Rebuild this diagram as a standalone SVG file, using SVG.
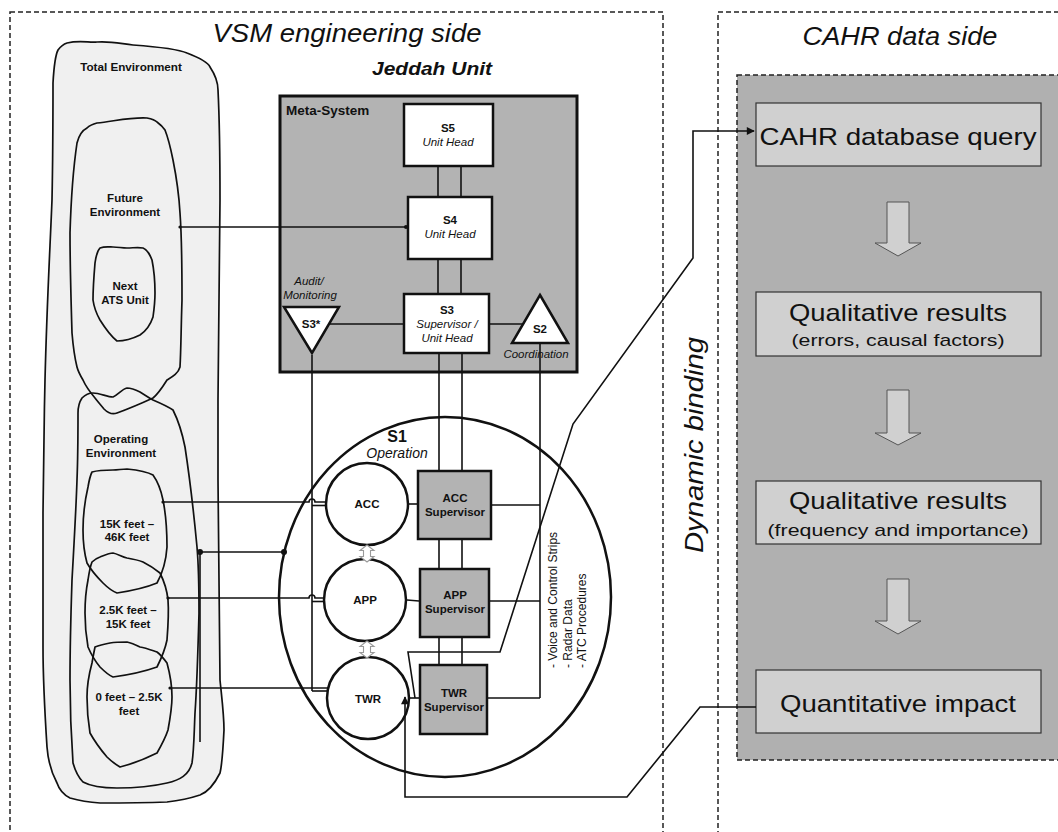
<svg xmlns="http://www.w3.org/2000/svg" width="1058" height="832" viewBox="0 0 1058 832">
  <defs>
    <style>
      text { font-family: "Liberation Sans", Arial, sans-serif; fill: #111; }
      .title { font-size: 25px; font-style: italic; }
      .b { font-weight: bold; }
      .i { font-style: italic; }
      .lbl { font-size: 11.5px; text-anchor: middle; }
      .box-txt { font-size: 24px; text-anchor: middle; }
      .sub-txt { font-size: 17px; text-anchor: middle; }
      .panel { fill: none; stroke: #222; stroke-width: 1.5; stroke-dasharray: 5 3; }
      .blob { fill: #f0f0f0; stroke: #111; stroke-width: 1.7; stroke-linejoin: round; }
      .blob2 { fill: none; stroke: #111; stroke-width: 1.7; stroke-linejoin: round; }
      .sbox { fill: #fff; stroke: #111; stroke-width: 2.5; }
      .gbox { fill: #b3b3b3; stroke: #111; stroke-width: 2.5; }
      .circ { fill: #fff; stroke: #111; stroke-width: 2.5; }
      .ln { fill: none; stroke: #111; stroke-width: 1.6; }
      .res { fill: #d0d0d0; stroke: #333; stroke-width: 1.2; }
      .barrow { fill: #d0d0d0; stroke: #555; stroke-width: 1; }
      .harrow { fill: #fff; stroke: #9a9a9a; stroke-width: 1.1; }
    </style>
    <marker id="ah" viewBox="0 0 10 10" refX="9" refY="5" markerWidth="9" markerHeight="8" markerUnits="userSpaceOnUse" orient="auto">
      <path d="M0,0 L10,5 L0,10 z" fill="#111"/>
    </marker>
  </defs>

  <rect width="1058" height="832" fill="#fff"/>

  <!-- panels -->
  <g id="panels">
    <rect class="panel" x="10" y="12" width="653" height="840"/>
    <rect class="panel" x="718" y="12" width="400" height="840"/>
    <rect x="737" y="75" width="340" height="685" fill="#b0b0b0" stroke="#222" stroke-width="1.5" stroke-dasharray="5 3"/>
    <text class="title" x="347" y="42" text-anchor="middle" textLength="269" lengthAdjust="spacingAndGlyphs">VSM engineering side</text>
    <text class="title" x="900" y="45" text-anchor="middle" textLength="195" lengthAdjust="spacingAndGlyphs">CAHR data side</text>
    <text class="b i" x="432" y="75" font-size="19" text-anchor="middle" textLength="120" lengthAdjust="spacingAndGlyphs">Jeddah Unit</text>
    <text class="title" transform="translate(703,553) rotate(-90)" textLength="216" lengthAdjust="spacingAndGlyphs">Dynamic binding</text>
  </g>

  <!-- environments -->
  <g id="total-environment">
    <path class="blob" d="M67,43 C80,40 90,43 97,42 C112,41 122,44 133,45 C160,47 178,49 187,53 C200,58 208,62 210,67 C216,76 218,84 218,90 C220,130 220,160 220,200 C219,280 218,340 218,400 C218,450 218,470 218,480 C219,580 220,640 220,680 C222,700 224,715 224,730 C223,750 222,765 220,773 C214,785 208,792 200,795 C185,800 176,801 167,802 C140,803 120,803 100,803 C85,802 77,800 70,798 C62,794 59,789 57,783 C50,770 48,760 47,747 C44,700 43,670 43,647 C43,600 43,560 43,513 C44,450 44,420 45,380 C47,300 50,250 52,200 C53,150 53,110 53,83 C54,65 55,56 58,50 C61,46 64,44 67,43 Z"/>
    <text class="b" x="131" y="71" font-size="11.7" text-anchor="middle">Total Environment</text>
  </g>

  <g id="future-environment">
    <path class="blob2" d="M97,123 C115,121 132,117 147,118 C152,119 155,120 157,122 C161,125 163,127 165,130 C169,140 171,150 173,160 C177,180 179,195 180,213 C182,240 182,270 182,300 C181,330 181,350 180,367 C178,374 172,377 167,380 C162,388 158,394 153,398 C140,404 128,409 117,413 C112,415 108,413 104,409 C100,404 98,402 95,398 C90,392 86,387 83,380 C80,375 78,371 77,367 C74,355 73,345 72,333 C71,300 70,265 70,233 C71,200 73,170 77,143 C79,135 83,130 87,128 C90,125 93,124 97,123 Z"/>
    <text class="b lbl" x="125" y="202">Future</text>
    <text class="b lbl" x="125" y="216">Environment</text>
  </g>

  <g id="next-ats-unit">
    <path class="blob2" d="M100,248 C105,246 110,247 113,247 C118,247 122,248 127,248 C133,248 138,247 143,248 C148,250 150,255 152,260 C154,270 155,282 155,293 C155,302 154,310 153,317 C150,326 146,331 140,335 C132,339 124,341 117,341 C112,337 105,328 100,320 C96,313 94,307 93,300 C93,288 94,275 95,263 C96,256 97,251 100,248 Z"/>
    <text class="b lbl" x="125" y="290">Next</text>
    <text class="b lbl" x="125" y="304">ATS Unit</text>
  </g>

  <g id="operating-environment">
    <path class="blob2" d="M82,398 C86,394 89,393 93,393 C100,393 107,397 113,397 C118,395 122,389 127,388 C132,388 136,390 140,392 C145,395 149,398 153,400 C160,403 167,406 173,410 C178,420 182,432 185,447 C190,480 194,515 197,547 C199,570 199,590 199,613 C198,650 197,685 195,713 C194,735 194,750 192,763 C189,775 180,780 167,783 C150,787 133,788 117,788 C104,788 92,787 83,782 C78,777 75,770 73,763 C71,735 70,710 70,680 C70,645 71,610 72,580 C74,545 76,510 77,480 C78,455 78,432 78,413 C78,406 80,401 82,398 Z"/>
    <text class="b lbl" x="121" y="443">Operating</text>
    <text class="b lbl" x="121" y="457">Environment</text>
  </g>

  <g id="altitude-15k-46k">
    <path class="blob2" d="M92,472 C99,470 106,470 113,470 C118,470 122,469 127,469 C137,470 146,471 153,475 C158,482 161,490 163,500 C166,515 167,530 167,547 C166,562 162,574 157,583 C145,588 130,591 117,593 C112,591 108,588 103,583 C97,577 91,570 87,563 C84,552 83,541 83,530 C83,515 85,500 88,487 C89,481 90,476 92,472 Z"/>
    <text class="b lbl" x="127" y="528">15K feet –</text>
    <text class="b lbl" x="127" y="541">46K feet</text>
  </g>

  <g id="altitude-2-5k-15k">
    <path class="blob2" d="M92,562 C95,559 97,558 100,557 C105,555 109,553 113,553 C118,554 122,557 127,558 C133,559 138,560 143,562 C149,565 155,569 160,573 C164,581 167,590 168,600 C169,613 168,627 167,640 C165,650 161,659 157,667 C143,672 128,675 113,677 C108,675 104,671 100,667 C95,661 91,654 88,647 C86,636 85,625 85,613 C85,602 86,590 88,580 C89,573 90,567 92,562 Z"/>
    <text class="b lbl" x="128" y="614">2.5K feet –</text>
    <text class="b lbl" x="128" y="628">15K feet</text>
  </g>

  <g id="altitude-0-2-5k">
    <path class="blob2" d="M95,647 C100,645 105,644 110,643 C116,642 121,642 127,642 C132,643 136,645 140,647 C146,648 151,650 157,652 C161,655 164,659 167,663 C170,674 172,685 172,697 C172,708 170,719 168,730 C165,739 161,746 157,753 C145,759 132,764 120,767 C115,764 111,761 107,757 C101,750 95,742 90,733 C88,721 87,709 87,697 C87,686 89,674 92,663 C93,657 94,652 95,647 Z"/>
    <text class="b lbl" x="129" y="701">0 feet – 2.5K</text>
    <text class="b lbl" x="129" y="715">feet</text>
  </g>

  <!-- meta-system -->
  <g id="meta-system">
    <rect x="280" y="96" width="297" height="276" fill="#b3b3b3" stroke="#111" stroke-width="3"/>
    <text class="b" x="286" y="115" font-size="13.5">Meta-System</text>
  </g>

  <!-- S5 -->
  <g id="s5">
    <rect class="sbox" x="404" y="104" width="89" height="62"/>
    <text class="b lbl" x="448" y="132" font-size="12.5">S5</text>
    <text class="i lbl" x="448" y="146">Unit Head</text>
  </g>

  <!-- S4 -->
  <g id="s4">
    <rect class="sbox" x="408" y="197" width="84" height="62"/>
    <text class="b lbl" x="450" y="224" font-size="12.5">S4</text>
    <text class="i lbl" x="450" y="238">Unit Head</text>
  </g>

  <!-- S3 -->
  <g id="s3">
    <rect class="sbox" x="404" y="294" width="85" height="59"/>
    <text class="b lbl" x="447" y="314" font-size="12.5">S3</text>
    <text class="i lbl" x="447" y="328">Supervisor /</text>
    <text class="i lbl" x="447" y="342">Unit Head</text>
  </g>

  <!-- S3* -->
  <g id="s3-star">
    <polygon points="284,307 339,307 312,353" fill="#fff" stroke="#111" stroke-width="2.5" stroke-linejoin="miter"/>
    <text class="b lbl" x="311" y="328">S3*</text>
    <text class="i lbl" x="309" y="285">Audit/</text>
    <text class="i lbl" x="310" y="299">Monitoring</text>
  </g>

  <!-- S2 -->
  <g id="s2">
    <polygon points="540,295 568,343 512,343" fill="#fff" stroke="#111" stroke-width="2.5"/>
    <text class="b lbl" x="540" y="333">S2</text>
    <text class="i lbl" x="536" y="358">Coordination</text>
  </g>

  <!-- S1 -->
  <g id="s1">
    <ellipse cx="445" cy="597" rx="166" ry="180" fill="none" stroke="#111" stroke-width="2.5"/>
    <text class="b" x="397" y="442" font-size="16" text-anchor="middle">S1</text>
    <text class="i" x="397" y="458" font-size="14" text-anchor="middle">Operation</text>
    <g font-size="12" fill="#111">
      <text transform="translate(557,668) rotate(-90)">- Voice and Control Strips</text>
      <text transform="translate(572,668) rotate(-90)">- Radar Data</text>
      <text transform="translate(586,668) rotate(-90)">- ATC Procedures</text>
    </g>
  </g>

  <g id="acc">
    <circle class="circ" cx="367" cy="504" r="41"/>
    <text class="b lbl" x="367" y="508">ACC</text>
  </g>
  <g id="app">
    <circle class="circ" cx="365" cy="600" r="41"/>
    <text class="b lbl" x="365" y="604">APP</text>
  </g>
  <g id="twr">
    <circle class="circ" cx="368" cy="698" r="41"/>
    <text class="b lbl" x="368" y="703">TWR</text>
  </g>

  <g id="acc-supervisor">
    <rect class="gbox" x="418" y="471" width="73" height="68"/>
    <text class="b lbl" x="455" y="502">ACC</text>
    <text class="b lbl" x="455" y="516">Supervisor</text>
  </g>
  <g id="app-supervisor">
    <rect class="gbox" x="420" y="569" width="69" height="68"/>
    <text class="b lbl" x="455" y="599">APP</text>
    <text class="b lbl" x="455" y="613">Supervisor</text>
  </g>
  <g id="twr-supervisor">
    <rect class="gbox" x="420" y="665" width="67" height="69"/>
    <text class="b lbl" x="454" y="697">TWR</text>
    <text class="b lbl" x="454" y="711">Supervisor</text>
  </g>

  <!-- CAHR data side -->
  <g id="cahr-query">
    <rect class="res" x="756" y="103" width="285" height="63"/>
    <text class="box-txt" x="898" y="145" textLength="277" lengthAdjust="spacingAndGlyphs">CAHR database query</text>
  </g>
  <g id="qualitative-errors">
    <rect class="res" x="756" y="292" width="285" height="64"/>
    <text class="box-txt" x="898" y="321" textLength="218" lengthAdjust="spacingAndGlyphs">Qualitative results</text>
    <text class="sub-txt" x="898" y="346" textLength="213" lengthAdjust="spacingAndGlyphs">(errors, causal factors)</text>
  </g>
  <g id="qualitative-frequency">
    <rect class="res" x="756" y="481" width="285" height="63"/>
    <text class="box-txt" x="898" y="509" textLength="218" lengthAdjust="spacingAndGlyphs">Qualitative results</text>
    <text class="sub-txt" x="898" y="536" textLength="261" lengthAdjust="spacingAndGlyphs">(frequency and importance)</text>
  </g>
  <g id="quantitative-impact">
    <rect class="res" x="756" y="670" width="285" height="63"/>
    <text class="box-txt" x="898" y="712" textLength="236" lengthAdjust="spacingAndGlyphs">Quantitative impact</text>
  </g>

  <!-- connectors -->
  <g id="connectors">
    <!-- S5 / S4 / S3 / S1 command channels -->
    <line class="ln" x1="438" y1="166" x2="438" y2="197"/>
    <line class="ln" x1="461" y1="166" x2="461" y2="197"/>
    <line class="ln" x1="438" y1="259" x2="438" y2="294"/>
    <line class="ln" x1="461" y1="259" x2="461" y2="294"/>
    <line class="ln" x1="439" y1="354" x2="439" y2="470"/>
    <line class="ln" x1="462" y1="354" x2="462" y2="470"/>
    <line class="ln" x1="439" y1="540" x2="439" y2="568"/>
    <line class="ln" x1="462" y1="540" x2="462" y2="568"/>
    <line class="ln" x1="439" y1="638" x2="439" y2="664"/>
    <line class="ln" x1="462" y1="638" x2="462" y2="664"/>
    <!-- S3* and S2 links -->
    <line class="ln" x1="328" y1="324" x2="403" y2="324"/>
    <line class="ln" x1="490" y1="324" x2="523" y2="324"/>
    <line class="ln" x1="312" y1="355" x2="312" y2="691"/>
    <line class="ln" x1="540" y1="344" x2="540" y2="698"/>
    <line class="ln" x1="492" y1="505" x2="540" y2="505"/>
    <line class="ln" x1="490" y1="601" x2="540" y2="601"/>
    <line class="ln" x1="488" y1="698" x2="540" y2="698"/>
    <!-- future environment to S4 -->
    <line class="ln" x1="180" y1="227" x2="407" y2="227"/>
    <circle cx="180" cy="227" r="1.6" fill="#111"/>
    <circle cx="406" cy="227" r="2" fill="#111"/>
    <!-- altitude bands to operational units -->
    <path class="ln" d="M163,502 H309 A3,3 0 0 1 315,502 H326"/>
    <line class="ln" x1="312" y1="505.5" x2="326" y2="505.5"/>
    <path class="ln" d="M168,598 H309 A3,3 0 0 1 315,598 H324"/>
    <line class="ln" x1="312" y1="601.5" x2="324" y2="601.5"/>
    <line class="ln" x1="170" y1="688" x2="328" y2="688"/>
    <line class="ln" x1="312" y1="691" x2="327" y2="691"/>
    <circle cx="163" cy="502" r="1.6" fill="#111"/>
    <circle cx="168" cy="598" r="1.6" fill="#111"/>
    <circle cx="170" cy="688" r="1.6" fill="#111"/>
    <!-- operating environment to S1 -->
    <line class="ln" x1="200" y1="552" x2="200" y2="742"/>
    <line class="ln" x1="200" y1="552" x2="284" y2="552"/>
    <circle cx="200" cy="552" r="3" fill="#111"/>
    <circle cx="284" cy="552" r="3" fill="#111"/>
    <!-- units to supervisors -->
    <line class="ln" x1="409" y1="504" x2="417" y2="504"/>
    <line class="ln" x1="407" y1="600" x2="419" y2="601"/>
    <line class="ln" x1="410" y1="698" x2="419" y2="698"/>
    <!-- coordination between units -->
    <path class="harrow" d="M367,545 L374,550.5 L370.5,550.5 L370.5,556.5 L374,556.5 L367,562 L360,556.5 L363.5,556.5 L363.5,550.5 L360,550.5 Z"/>
    <path class="harrow" d="M367,641 L374,646.5 L370.5,646.5 L370.5,652.5 L374,652.5 L367,658 L360,652.5 L363.5,652.5 L363.5,646.5 L360,646.5 Z"/>
    <!-- dynamic binding: supervision to database query -->
    <path class="ln" d="M415,698 L408,652 L500,652 L573,424 L693,258 L693,131 L754,131" marker-end="url(#ah)"/>
    <!-- dynamic binding: impact back to TWR -->
    <path class="ln" d="M756,707 L700,707 L627,797 L405,797 L405,697" marker-end="url(#ah)"/>
    <!-- result flow arrows -->
    <polygon class="barrow" points="887,202 909,202 909,243 921,243 898,256 875,243 887,243"/>
    <polygon class="barrow" points="887,390 909,390 909,433 921,433 898,445 875,433 887,433"/>
    <polygon class="barrow" points="887,579 909,579 909,621 921,621 898,634 875,621 887,621"/>
  </g>
</svg>
